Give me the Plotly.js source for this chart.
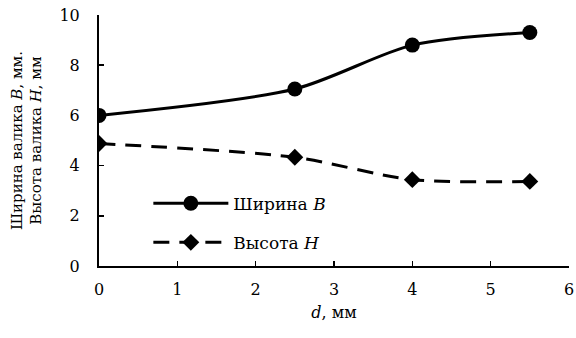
<!DOCTYPE html>
<html><head><meta charset="utf-8">
<script src="https://cdn.plot.ly/plotly-3.0.1.min.js"></script>
<style>html,body{margin:0;padding:0;background:#fff}#c{width:576px;height:338px}</style>
</head><body><div id="c"></div>
<script>
const d = [0, 2.5, 4, 5.5];
const widthB = [6.0, 7.05, 8.8, 9.3];
const heightH = [4.88, 4.33, 3.44, 3.37];
const nameB = 'Ширина <i>B</i>';
const nameH = 'Высота <i>H</i>';
const xTitle = '<i>d</i>, мм';
const yTitle = 'Ширина валика <i>B</i>, мм.<br>Высота валика <i>H</i>, мм';

const F = 'DejaVu Serif';
const FS = 16;
const traces = [
  {x: d, y: widthB, name: nameB, legendgroup: 'b', mode: 'lines+markers', line: {color: '#000', width: 3, shape: 'spline', smoothing: 0.8},
   marker: {symbol: 'circle', size: 15, color: '#000'}},
  {x: d, y: heightH, name: nameH, legendgroup: 'h', mode: 'lines+markers', line: {color: '#000', width: 3, dash: '16px,10px', shape: 'spline', smoothing: 0.8},
   marker: {symbol: 'diamond', size: 13, color: '#000'}}
];
const layout = {
  width: 576, height: 338,
  margin: {l: 99, r: 7, t: 15, b: 72},
  paper_bgcolor: '#fff', plot_bgcolor: '#fff',
  font: {family: F, size: FS, color: '#000'},
  showlegend: true,
  legend: {x: 0.105, y: 0.32, xanchor: 'left', yanchor: 'top', bgcolor: 'rgba(0,0,0,0)', itemwidth: 75, font: {family: F, size: 17}, traceorder: 'grouped', tracegroupgap: 14},
  xaxis: {range: [0, 6], dtick: 1, showgrid: false, zeroline: false, showline: true, linecolor: '#000', linewidth: 2,
          ticks: 'inside', ticklen: 5, tickwidth: 1.5, tickcolor: '#000', ticklabelstandoff: 8, tickfont: {family: F, size: FS},
          title: {text: xTitle, font: {family: F, size: FS}, standoff: 9}},
  yaxis: {range: [0, 10], dtick: 2, showgrid: false, zeroline: false, showline: true, linecolor: '#000', linewidth: 2,
          ticks: 'inside', ticklen: 5, tickwidth: 1.5, tickcolor: '#000', ticklabelstandoff: 14, tickfont: {family: F, size: FS},
          title: {text: yTitle, font: {family: F, size: 15}, standoff: 14}}
};
Plotly.newPlot('c', traces, layout, {displayModeBar: false, staticPlot: true});
</script></body></html>
